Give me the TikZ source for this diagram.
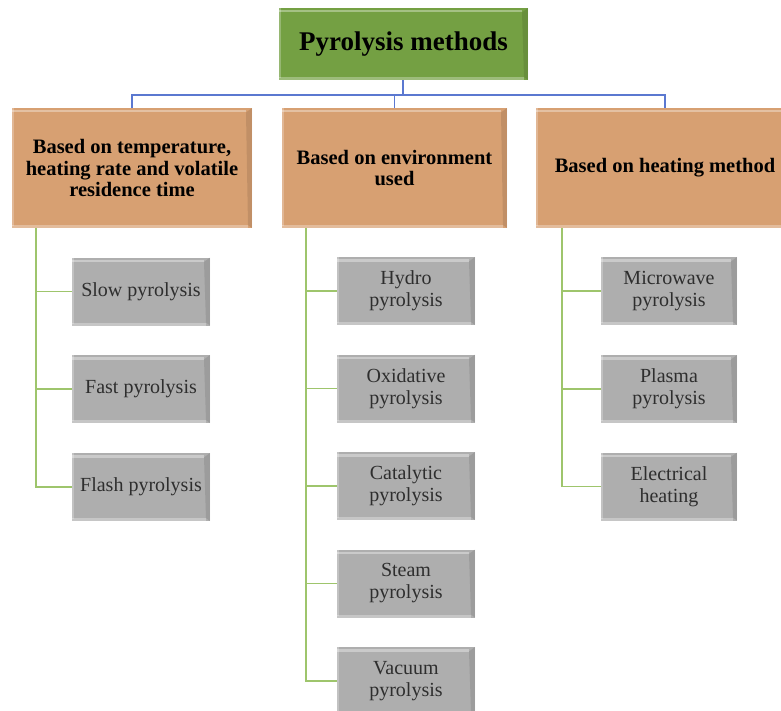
\documentclass[tikz,border=0pt]{standalone}
\usepackage{fontspec}
\setmainfont{Liberation Serif}
\definecolor{titlegreen}{HTML}{74A043}
\definecolor{tanfill}{HTML}{D7A072}
\definecolor{greyfill}{HTML}{AEAEAE}
\definecolor{busblue}{HTML}{5B78D0}
\definecolor{leafgreen}{HTML}{9EC56C}
\definecolor{greytext}{HTML}{2E2E2E}
\tikzset{
  bevel/.style={path picture={
    \fill[white,opacity=.35] ([yshift=-2pt]path picture bounding box.north west) rectangle ([xshift=-6pt,yshift=-4.5pt]path picture bounding box.north east);
    \fill[white,opacity=.25] (path picture bounding box.north west) rectangle ([xshift=2pt,yshift=2pt]path picture bounding box.south west);
    \fill[black,opacity=.10] ([xshift=-6pt,yshift=-4.5pt]path picture bounding box.north east) -- (path picture bounding box.north east) -- (path picture bounding box.south east) -- ([xshift=-4pt,yshift=3pt]path picture bounding box.south east) -- cycle;
    \fill[white,opacity=.30] ([yshift=3pt]path picture bounding box.south west) rectangle ([xshift=-4pt]path picture bounding box.south east);
  }},
  titlebox/.style={bevel, fill=titlegreen, minimum width=249pt, minimum height=72pt, inner sep=0pt,
    font=\fontsize{27}{30}\selectfont\bfseries},
  catbox/.style={bevel, fill=tanfill, minimum height=120pt, inner sep=0pt, align=center,
    font=\fontsize{20.5}{21.5}\selectfont\bfseries},
  leafbox/.style={bevel, fill=greyfill, minimum width=138pt, minimum height=68pt, inner sep=0pt, align=center,
    text=greytext, font=\fontsize{20}{22}\selectfont},
  busline/.style={draw=busblue, line width=1.1pt},
  leafline/.style={draw=leafgreen, line width=1.3pt},
}
\begin{document}
\begin{tikzpicture}[x=1pt,y=-1pt]
\useasboundingbox (0,0) rectangle (781,711);
\node[titlebox] (title) at (403.5,44) {Pyrolysis methods};

\node[catbox, minimum width=240pt] (cat1) at (132,168) {Based on temperature,\\heating rate and volatile\\residence time};
\node[catbox, minimum width=225pt] (cat2) at (394.5,168) {Based on environment\\used};
\node[catbox, minimum width=258pt] (cat3) at (665,168) {Based on heating method};

\node[leafbox] (slow) at (141,291.5) {Slow pyrolysis};
\node[leafbox] (fast) at (141,389) {Fast pyrolysis};
\node[leafbox] (flash) at (141,487) {Flash pyrolysis};

\node[leafbox] (hydro) at (406,291) {Hydro\\pyrolysis};
\node[leafbox] (oxid) at (406,388.5) {Oxidative\\pyrolysis};
\node[leafbox] (catal) at (406,486) {Catalytic\\pyrolysis};
\node[leafbox] (steam) at (406,583.5) {Steam\\pyrolysis};
\node[leafbox] (vacuum) at (406,681) {Vacuum\\pyrolysis};

\node[leafbox, minimum width=136pt] (micro) at (669,291) {Microwave\\pyrolysis};
\node[leafbox, minimum width=136pt] (plasma) at (669,389) {Plasma\\pyrolysis};
\node[leafbox, minimum width=136pt] (elec) at (669,486.5) {Electrical\\heating};

% blue bus
\coordinate (bus) at (403,95);
\coordinate (s1) at (36,0);
\coordinate (s2) at (306,0);
\coordinate (s3) at (562,0);
\draw[busline] (title.south -| bus) -- (bus);
\draw[busline] (cat1.north) |- (bus) -| (cat3.north);
\draw[busline] (cat2.north) -- (cat2.north |- bus);

% green leaves
\draw[leafline] (cat1.south -| s1) |- (slow.west);
\draw[leafline] (cat1.south -| s1) |- (fast.west);
\draw[leafline] (cat1.south -| s1) |- (flash.west);
\draw[leafline] (cat2.south -| s2) |- (hydro.west);
\draw[leafline] (cat2.south -| s2) |- (oxid.west);
\draw[leafline] (cat2.south -| s2) |- (catal.west);
\draw[leafline] (cat2.south -| s2) |- (steam.west);
\draw[leafline] (cat2.south -| s2) |- (vacuum.west);
\draw[leafline] (cat3.south -| s3) |- (micro.west);
\draw[leafline] (cat3.south -| s3) |- (plasma.west);
\draw[leafline] (cat3.south -| s3) |- (elec.west);
\end{tikzpicture}
\end{document}
